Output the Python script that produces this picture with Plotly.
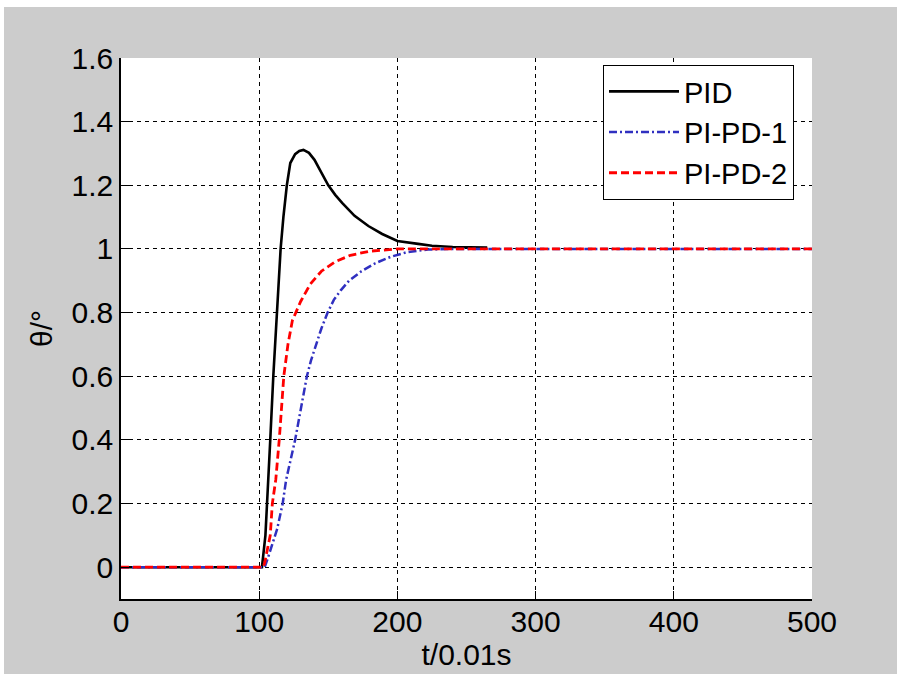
import plotly.graph_objects as go

# ---- data ----
pid_t = [0, 100, 102, 104.5, 105.5, 108, 110.2, 112.7, 114, 115.5, 117.5, 120, 122.5, 126, 129, 132,
         136, 140, 145, 150, 155, 160, 169, 179, 189, 200, 215, 225, 240, 265]
pid_y = [0, 0, 0, 0.1, 0.2, 0.4, 0.6, 0.8, 0.9, 1.0, 1.1, 1.2, 1.27, 1.298, 1.308, 1.311,
         1.302, 1.28, 1.24, 1.2, 1.17, 1.145, 1.104, 1.072, 1.047, 1.025, 1.016, 1.01, 1.006, 1.004]

pipd1_t = [0, 100, 104, 106, 113, 117, 119.5, 126, 134.5, 137.5, 141, 145, 149.5, 154, 159, 165,
           174, 184, 195, 207, 222, 240, 500]
pipd1_y = [0, 0, 0, 0.025, 0.12, 0.2, 0.275, 0.4, 0.6, 0.65, 0.7, 0.75, 0.8, 0.84, 0.87, 0.9,
           0.93, 0.955, 0.975, 0.99, 0.998, 1.0, 1.0]

pipd2_t = [0, 100, 103, 104, 108, 109.5, 112, 114.5, 116, 117.8, 120.8, 124, 130, 137, 145, 155,
           166, 180, 200, 500]
pipd2_y = [0, 0, 0, 0.015, 0.1, 0.2, 0.275, 0.4, 0.5, 0.6, 0.7, 0.775, 0.835, 0.89, 0.93, 0.96,
           0.98, 0.993, 1.0, 1.0]

x_ticks = [0, 100, 200, 300, 400, 500]
y_ticks = [0, 0.2, 0.4, 0.6, 0.8, 1.0, 1.2, 1.4, 1.6]
y_tick_text = ["0", "0.2", "0.4", "0.6", "0.8", "1", "1.2", "1.4", "1.6"]
names = ["PID", "PI-PD-1", "PI-PD-2"]

FONT = "Liberation Sans, Arial, sans-serif"
W, H = 906, 674
L, R, T, B = 121, 94, 58, 75
PW, PH = W - L - R, H - T - B

fig = go.Figure()
fig.add_trace(go.Scatter(x=pid_t, y=pid_y, mode="lines", name=names[0],
                         line=dict(color="black", width=2.6)))
fig.add_trace(go.Scatter(x=pipd1_t, y=pipd1_y, mode="lines", name=names[1],
                         line=dict(color="#3030c0", width=2.5, dash="8px,3px,2px,3px")))
fig.add_trace(go.Scatter(x=pipd2_t, y=pipd2_y, mode="lines", name=names[2],
                         line=dict(color="#ff0000", width=2.8, dash="8px,4px")))

def px2x(px):
    return (px - L) / PW

def py2y(py):
    return (H - B - py) / PH

shapes = [
    dict(type="rect", xref="paper", yref="paper", layer="below",
         x0=px2x(4), x1=px2x(897), y0=py2y(680), y1=py2y(7),
         fillcolor="#cccccc", line=dict(width=0)),
    dict(type="rect", xref="paper", yref="paper", layer="below",
         x0=0, x1=1, y0=0, y1=1, fillcolor="white", line=dict(width=0)),
]

axis_common = dict(
    showgrid=True, gridcolor="black", gridwidth=1, griddash="4px,4px",
    showline=True, linecolor="black", linewidth=1.5,
    ticks="inside", ticklen=8, tickcolor="black", tickwidth=1,
    tickfont=dict(family=FONT, size=30, color="black"),
    zeroline=False, automargin=False,
)

fig.update_layout(
    width=W, height=H,
    margin=dict(l=L, r=R, t=T, b=B, pad=0),
    paper_bgcolor="white", plot_bgcolor="white",
    shapes=shapes,
    showlegend=True,
    legend=dict(x=px2x(603), y=py2y(65), xanchor="left", yanchor="top",
                bgcolor="white", bordercolor="black", borderwidth=1,
                font=dict(family=FONT, size=29, color="black"),
                itemwidth=70, tracegroupgap=0),
    xaxis=dict(range=[0, 500], tickvals=x_ticks, ticktext=[str(v) for v in x_ticks],
               ticklabelstandoff=-5,
               title=dict(text="t/0.01s", font=dict(family=FONT, size=30, color="black"), standoff=4),
               **axis_common),
    yaxis=dict(range=[-0.1, 1.6], tickvals=y_ticks, ticktext=y_tick_text,
               title=dict(text="θ/°", font=dict(family=FONT, size=30, color="black"), standoff=10),
               **axis_common),
)

fig.write_html("out.html", config={"displayModeBar": False},
               post_script="document.body.style.margin='0px';")
